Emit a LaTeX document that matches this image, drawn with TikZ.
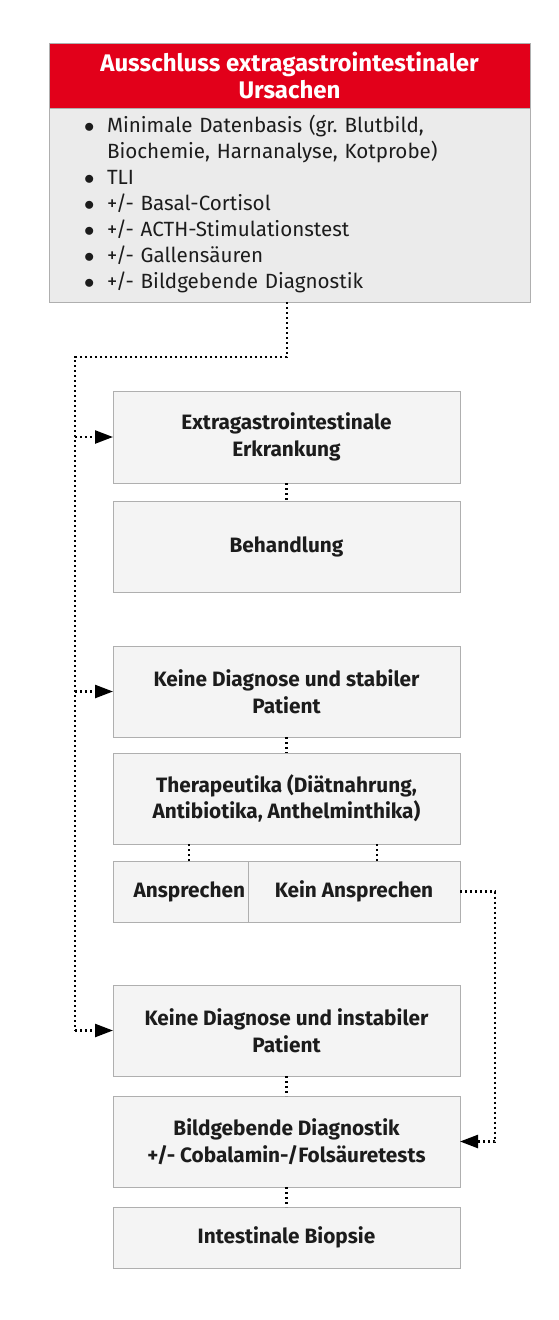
\documentclass[tikz,border=0pt]{standalone}
\usepackage{fontspec}
\setmainfont{Fira Sans}
\usepackage{xcolor}
\usetikzlibrary{positioning}
\usetikzlibrary{arrows.meta}
\definecolor{headred}{HTML}{E2001A}
\definecolor{listgray}{HTML}{EBEBEB}
\definecolor{boxfill}{HTML}{F4F4F4}
\definecolor{boxline}{HTML}{AFAFAF}
\definecolor{textdark}{HTML}{1C1C1C}

\begin{document}
\begin{tikzpicture}[x=1pt,y=-1pt,node distance=18pt,
	flow node/.style={rectangle, draw=boxline, line width=1pt, outer sep=0pt, fill=boxfill, minimum width=347pt, minimum height=91pt, align=center, text=textdark, font=\bfseries\fontsize{20.8}{26.5}\selectfont},
	head node/.style={rectangle, draw=boxline, line width=1pt, outer sep=0pt, fill=headred, minimum width=481pt, minimum height=65pt, align=center, text=white, font=\bfseries\fontsize{24}{27}\selectfont},
	list node/.style={rectangle, draw=boxline, line width=1pt, outer sep=0pt, fill=listgray, minimum width=481pt, minimum height=194pt, inner xsep=35pt, text width=411pt, align=left, text=textdark, font=\fontsize{20.6}{26}\selectfont},
	link/.style={draw=black, line width=2.4pt, dash pattern=on 2.4pt off 2.6pt},
	link arrow/.style={link, -{Triangle[length=18pt,width=13pt]}}]
	
	\useasboundingbox (0,0) rectangle (559,1320);
	
	\node[head node] (head) at (289.5,75.5) {Ausschluss extragastrointestinaler\\Ursachen};
	\node[list node, below=0pt of head] (list) {%
		\begin{tabular}{@{}p{23pt}@{}l@{}}
			$\bullet$ & Minimale Datenbasis (gr.\ Blutbild,\\
			& Biochemie, Harnanalyse, Kotprobe)\\
			$\bullet$ & TLI\\
			$\bullet$ & +/- Basal-Cortisol\\
			$\bullet$ & +/- ACTH-Stimulationstest\\
			$\bullet$ & +/- Gallensäuren\\
			$\bullet$ & +/- Bildgebende Diagnostik
	\end{tabular}};
	
	\node[flow node, minimum height=92pt] (extra) at (286.5,437) {Extragastrointestinale\\Erkrankung};
	\node[flow node, below=18pt of extra] (treat) {Behandlung};
	\node[flow node, below=54pt of treat] (stable) {Keine Diagnose und stabiler\\Patient};
	\node[flow node, below=16pt of stable] (thera) {Therapeutika (Diätnahrung,\\Antibiotika, Anthelminthika)};
	\node[flow node, minimum width=135pt, minimum height=61pt, inner xsep=3pt, text width=129pt, align=right, below right=17pt and 0pt of thera.south west] (ansp) {Ansprechen};
	\node[flow node, minimum width=212pt, minimum height=61pt, right=0pt of ansp] (kein) {Kein Ansprechen};
	\node[flow node, below=141pt of thera] (unstable) {Keine Diagnose und instabiler\\Patient};
	\node[flow node, below=20pt of unstable] (imaging) {Bildgebende Diagnostik\\+/- Cobalamin-/Folsäuretests};
	\node[flow node, minimum height=61pt, below=20pt of imaging] (biopsy) {Intestinale Biopsie};
	
	\coordinate (trunk) at (75,357);
	
	% left trunk
	\draw[link] ([xshift=-2.5pt]list.south) |- (trunk) -- (trunk |- unstable.west);
	\draw[link arrow] (trunk |- extra.west) -- (extra.west);
	\draw[link arrow] (trunk |- stable.west) -- (stable.west);
	\draw[link arrow] (trunk |- unstable.west) -- (unstable.west);
	
	% steps
	\draw[link] (extra.south) -- (treat.north);
	\draw[link] (stable.south) -- (thera.north);
	\draw[link] ([xshift=8.5pt]ansp.north) -- ([xshift=8.5pt]ansp.north |- thera.south);
	\draw[link] ([xshift=23pt]kein.north) -- ([xshift=23pt]kein.north |- thera.south);
	\draw[link] (unstable.south) -- (imaging.north);
	\draw[link] (imaging.south) -- (biopsy.north);
	
	% no response
	\draw[link arrow] (kein.east) -- ++(35,0) |- (imaging.east);
	
\end{tikzpicture}
\end{document}
